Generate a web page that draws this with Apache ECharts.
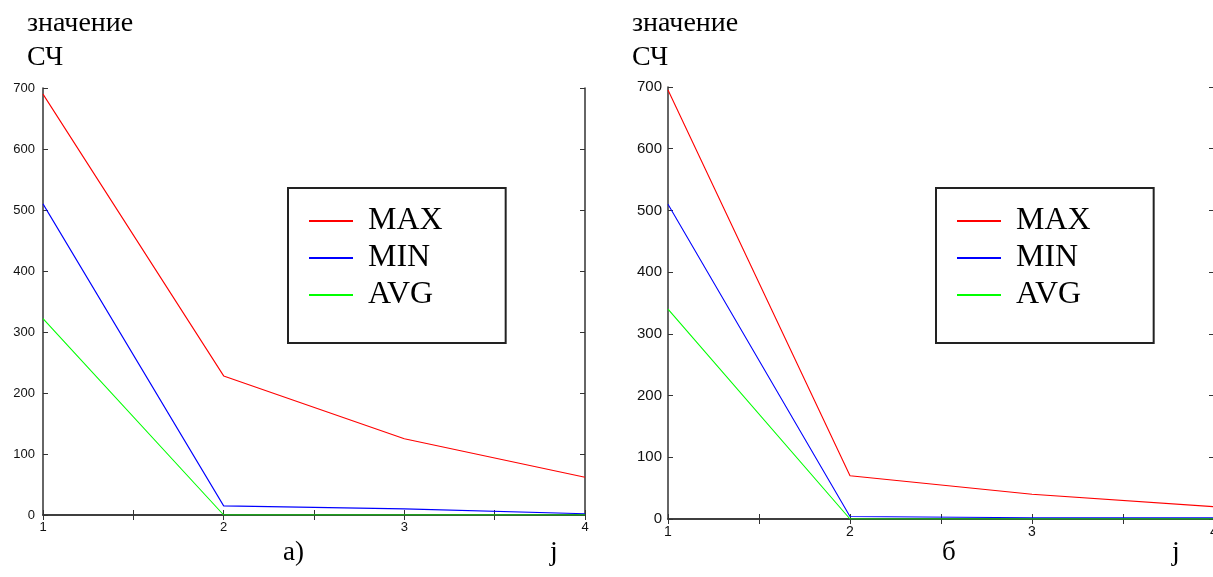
<!DOCTYPE html>
<html>
<head>
<meta charset="utf-8">
<script src="https://cdn.jsdelivr.net/npm/echarts@6/dist/echarts.min.js"></script>
<style>
html,body{margin:0;padding:0;background:#fff;}
#chart{width:1213px;height:577px;}
</style>
</head>
<body>
<div id="chart"></div>
<script>
const xValues = [1, 2, 3, 4];
const seriesNames = ['MAX', 'MIN', 'AVG'];
const seriesColors = ['#ff0000', '#0000ff', '#00ff00'];
const leftMax = [690, 228, 125, 62];
const leftMin = [510, 15, 10, 2];
const leftAvg = [322, 0, 0, 0];
const rightMax = [695, 70, 40, 20];
const rightMin = [510, 4, 2, 2];
const rightAvg = [340, 0, 0, 0];
const yMin = 0, yMax = 700, yStep = 100;
const xMin = 1, xMax = 4, xStep = 0.5;
const titleLines = ['значение', 'СЧ'];
const panelLabels = ['а)', 'б'];
const xAxisName = 'j';

const sans = '"Liberation Sans", Arial, sans-serif';
const serif = '"Liberation Serif", "Times New Roman", serif';
const axisColor = '#333';

function pairs(vals) { return xValues.map((x, i) => [x, vals[i]]); }

function xAxes(gridIndex, labelSize) {
  return [
    {
      type: 'value', gridIndex, position: 'bottom', min: xMin, max: xMax, interval: xStep,
      axisLine: { show: true, lineStyle: { color: axisColor, width: 1.5 } },
      axisTick: { show: true, inside: true, length: 5, lineStyle: { color: axisColor } },
      axisLabel: { show: true, margin: 6, color: '#111', fontFamily: sans, fontSize: labelSize,
        formatter: v => Number.isInteger(v) ? String(v) : '' , showMinLabel: true, showMaxLabel: true},
      splitLine: { show: false }
    },
    {
      type: 'value', gridIndex, position: 'top', min: xMin, max: xMax, interval: xStep,
      axisLine: { show: true, lineStyle: { color: axisColor, width: 1.5 } },
      axisTick: { show: true, inside: true, length: 5, lineStyle: { color: axisColor } },
      axisLabel: { show: false }, splitLine: { show: false }
    }
  ];
}
function yAxes(gridIndex, labelSize, margin) {
  return [
    {
      type: 'value', gridIndex, position: 'left', min: yMin, max: yMax, interval: yStep,
      axisLine: { show: true, lineStyle: { color: axisColor, width: 1.5 } },
      axisTick: { show: true, inside: true, length: 5, lineStyle: { color: axisColor } },
      axisLabel: { show: true, margin, color: '#111', fontFamily: sans, fontSize: labelSize },
      splitLine: { show: false }
    },
    {
      type: 'value', gridIndex, position: 'right', min: yMin, max: yMax, interval: yStep,
      axisLine: { show: true, lineStyle: { color: axisColor, width: 1.5 } },
      axisTick: { show: true, inside: true, length: 5, lineStyle: { color: axisColor } },
      axisLabel: { show: false }, splitLine: { show: false }
    }
  ];
}
function lineSeries(name, vals, color, axisIdx) {
  return {
    name, type: 'line', data: pairs(vals), xAxisIndex: axisIdx, yAxisIndex: axisIdx,
    symbol: 'none', lineStyle: { color, width: 1.1 }, itemStyle: { color },
    animation: false, z: 3
  };
}
function legend(left) {
  return {
    show: true, orient: 'vertical', left, top: 188,
    data: seriesNames.map(n => ({ name: n, icon: 'rect' })),
    itemWidth: 44, itemHeight: 2, itemGap: 5,
    padding: [17, 63, 32, 21],
    borderColor: '#222', borderWidth: 2, backgroundColor: '#fff',
    textStyle: { fontFamily: serif, fontSize: 32, color: '#000', padding: [0, 0, 0, 10] },
    selectedMode: false
  };
}

const leftData = [leftMax, leftMin, leftAvg];
const rightData = [rightMax, rightMin, rightAvg];

const textEls = [];
function addTitle(x) {
  titleLines.forEach((t, i) => textEls.push({
    type: 'text', left: x, top: 10 + i * 34,
    style: { text: t, font: '28px ' + serif, fill: '#000' }
  }));
}
addTitle(27);
addTitle(632);
textEls.push({ type: 'text', left: 283, top: 539, style: { text: panelLabels[0], font: '27px ' + serif, fill: '#000' } });
textEls.push({ type: 'text', left: 550, top: 539, style: { text: xAxisName, font: '28px ' + serif, fill: '#000' } });
textEls.push({ type: 'text', left: 942, top: 539, style: { text: panelLabels[1], font: '27px ' + serif, fill: '#000' } });
textEls.push({ type: 'text', left: 1172, top: 539, style: { text: xAxisName, font: '28px ' + serif, fill: '#000' } });

const option = {
  backgroundColor: '#fff',
  animation: false,
  grid: [
    { left: 43, top: 88, width: 542, height: 427, containLabel: false, outerBoundsMode: 'none' },
    { left: 668, top: 87, width: 546, height: 432, containLabel: false, outerBoundsMode: 'none' }
  ],
  xAxis: [...xAxes(0, 13), ...xAxes(1, 14)],
  yAxis: [...yAxes(0, 13, 8), ...yAxes(1, 15, 6)],
  legend: [legend(288), legend(936)],
  series: [
    ...seriesNames.map((n, i) => lineSeries(n, leftData[i], seriesColors[i], 0)),
    ...seriesNames.map((n, i) => lineSeries(n, rightData[i], seriesColors[i], 2))
  ],
  graphic: textEls
};
const chart = echarts.init(document.getElementById('chart'), null, { renderer: 'canvas' });
chart.setOption(option);
</script>
</body>
</html>
